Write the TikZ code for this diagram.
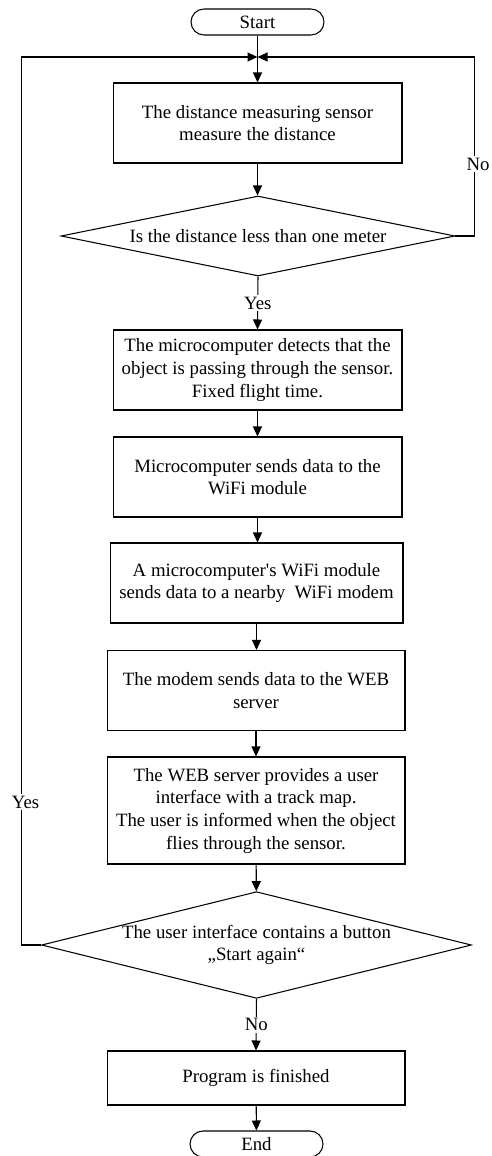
\documentclass[tikz,border=0pt]{standalone}
\usepackage{fontspec}
\setmainfont{Liberation Serif}
\usepackage{tikz}
\usetikzlibrary{arrows.meta,shapes.geometric}

\begin{document}
\begin{tikzpicture}[
  x=0.02cm, y=-0.02cm,
  line width=0.6pt,
  every node/.style={font=\fontsize{10.7}{12.9}\selectfont},
  term/.style={draw, rectangle, rounded corners=0.26cm, minimum width=2.66cm, minimum height=0.52cm, inner sep=0pt},
  procbox/.style={draw, rectangle, align=center, minimum width=5.78cm, minimum height=1.6cm, inner sep=2pt},
  decide/.style={draw, diamond, align=center, inner sep=0pt},
  arr/.style={-{Triangle[length=0.2cm, width=0.18cm]}},
  lab/.style={fill=white, inner sep=1pt}
]
  \useasboundingbox (0,0) rectangle (491,1156);

  % terminals and steps
  \node[term] (start) at (257.5,22) {Start};
  \coordinate (junc) at (257.5,57);
  \node[procbox] (measure) at (257.5,123) {The distance measuring sensor\\measure the distance};
  \node[decide, minimum width=7.88cm, minimum height=1.6cm, aspect=4.9] (check) at (258,236) {Is the distance less than one meter};
  \node[procbox] (detect) at (257.5,370) {The microcomputer detects that the\\object is passing through the sensor.\\Fixed flight time.};
  \node[procbox] (sendwifi) at (257.5,477) {Microcomputer sends data to the\\WiFi module};
  \node[procbox, minimum width=5.86cm] (tomodem) at (256.5,583) {A microcomputer\textquotesingle s WiFi module\\sends data to a nearby\ \ WiFi modem};
  \node[procbox, minimum width=5.96cm] (toserver) at (256,690.5) {The modem sends data to the WEB\\server};
  \node[procbox, minimum width=5.96cm, minimum height=2.14cm] (webui) at (256,810.5) {The WEB server provides a user\\interface with a track map.\\The user is informed when the object\\flies through the sensor.};
  \node[decide, minimum width=8.54cm, minimum height=2.12cm, aspect=4.03] (again) at (256.5,945) {The user interface contains a button\\„Start again“};
  \node[procbox, minimum width=5.96cm, minimum height=1.08cm] (finish) at (256,1078) {Program is finished};
  \node[term] (stop) at (256.5,1144) {End};

  % main flow
  \draw (start) -- (junc);
  \draw[arr] (junc) -- (measure);
  \draw[arr] (measure.south) -- (measure.south |- check.north);
  \draw[arr] (check.south) -- (detect.north) node[lab, pos=0.5] {Yes};
  \draw[arr] (detect) -- (sendwifi);
  \draw[arr] (sendwifi.south) -- (sendwifi.south |- tomodem.north);
  \draw[arr] (tomodem.south) -- (tomodem.south |- toserver.north);
  \draw[arr] (toserver) -- (webui);
  \draw[arr] (webui) -- (again);
  \draw[arr] (again.south) -- (finish.north) node[lab, pos=0.5] {No};
  \draw[arr] (finish) -- (stop);

  % loops back to the top
  \draw[arr] (check.east) -- ++(19,0) |- (junc);
  \draw[arr] (again.west) -- ++(-20,0) |- (junc);
  \node[lab] (nolab) at (478,164) {No};
  \node[lab] (yeslab) at (25.5,802) {Yes};
\end{tikzpicture}
\end{document}
